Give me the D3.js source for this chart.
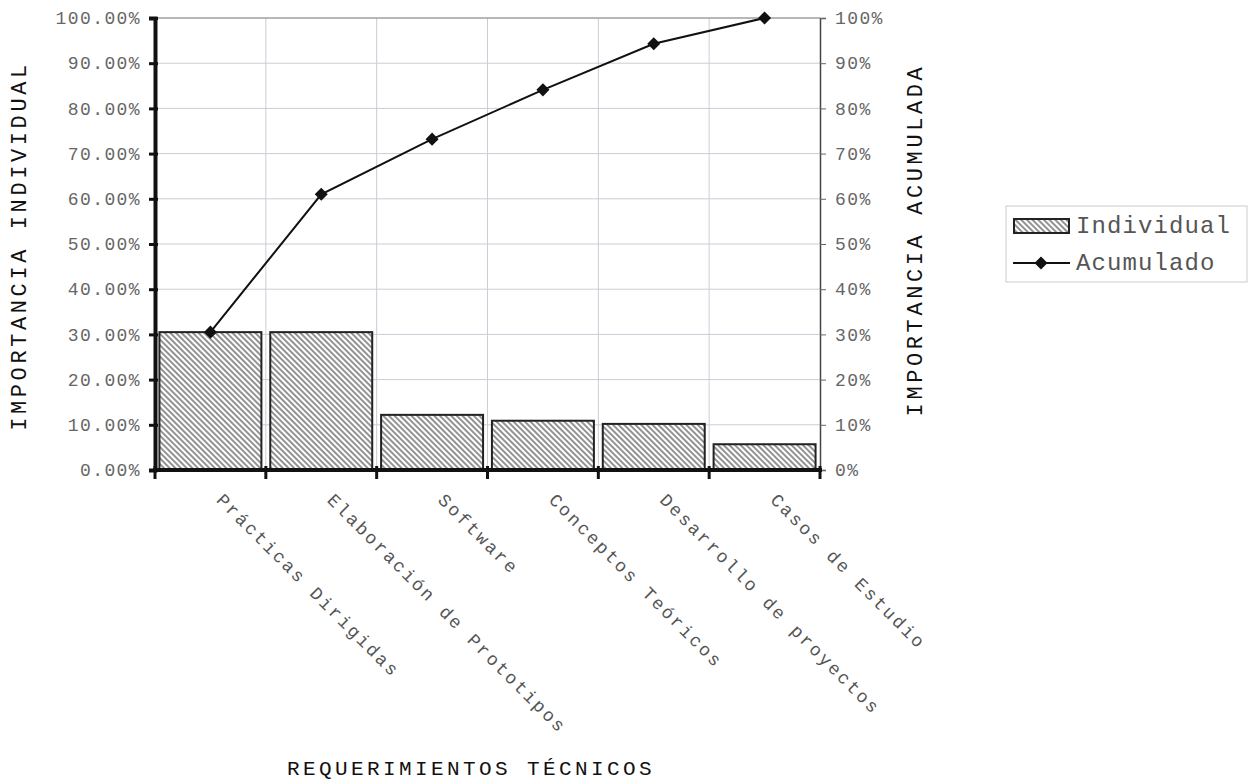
<!DOCTYPE html>
<html>
<head>
<meta charset="utf-8">
<script src="https://cdn.jsdelivr.net/npm/d3@7"></script>
<style>
  body { margin: 0; background: #fff; }
  text { font-family: "Courier New", "Liberation Mono", monospace; }
</style>
</head>
<body>
<div id="chart"></div>
<script>
var w = 1255;
var h = 783;

// data
var categories = ["Prácticas Dirigidas", "Elaboración de Prototipos", "Software",
                  "Conceptos Teóricos", "Desarrollo de proyectos", "Casos de Estudio"];
var individual = [0.305, 0.305, 0.122, 0.109, 0.102, 0.057];
var acumulado = [0.305, 0.61, 0.732, 0.841, 0.943, 1.0];
var yTicks = [0, 0.1, 0.2, 0.3, 0.4, 0.5, 0.6, 0.7, 0.8, 0.9, 1.0];

var plotLeft = 155, plotRight = 820, plotTop = 18, plotBottom = 470;

var svg = d3.select("#chart")
            .append("svg")
            .attr("width", w)
            .attr("height", h);

var defs = svg.append("defs");
var pat = defs.append("pattern")
   .attr("id", "hatch")
   .attr("patternUnits", "userSpaceOnUse")
   .attr("width", 4)
   .attr("height", 4)
   .attr("patternTransform", "rotate(-45)");
pat.append("rect").attr("width", 4).attr("height", 4).attr("fill", "#fff");
pat.append("line")
   .attr("x1", 1).attr("y1", 0).attr("x2", 1).attr("y2", 4)
   .attr("stroke", "#777").attr("stroke-width", 1.6);

var x = d3.scaleBand()
          .domain(categories)
          .range([plotLeft, plotRight])
          .paddingInner(0.08)
          .paddingOuter(0.04);

var xEdge = d3.scaleLinear()
              .domain([0, categories.length])
              .range([plotLeft, plotRight]);

var y = d3.scaleLinear().domain([0, 1]).range([plotBottom, plotTop]);

// grid
svg.append("g")
   .selectAll("line")
   .data(yTicks)
   .enter().append("line")
   .attr("x1", plotLeft).attr("x2", plotRight)
   .attr("y1", d => y(d)).attr("y2", d => y(d))
   .attr("stroke", "#c8cdd6").attr("stroke-width", 1);

svg.append("g")
   .selectAll("line")
   .data(d3.range(1, categories.length))
   .enter().append("line")
   .attr("x1", d => xEdge(d)).attr("x2", d => xEdge(d))
   .attr("y1", plotTop).attr("y2", plotBottom)
   .attr("stroke", "#c8cdd6").attr("stroke-width", 1);

// top border
svg.append("line")
   .attr("x1", plotLeft).attr("x2", plotRight).attr("y1", plotTop).attr("y2", plotTop)
   .attr("stroke", "#888").attr("stroke-width", 1.2);

// bars
svg.append("g")
   .selectAll("rect")
   .data(individual)
   .enter().append("rect")
   .attr("x", (d, i) => x(categories[i]))
   .attr("width", x.bandwidth())
   .attr("y", d => y(d))
   .attr("height", d => y(0) - y(d))
   .attr("fill", "url(#hatch)")
   .attr("stroke", "#222")
   .attr("stroke-width", 2);

// cumulative line
var cx = function(i) { return x(categories[i]) + x.bandwidth() / 2; };
var line = d3.line()
             .x((d, i) => cx(i))
             .y(d => y(d));

svg.append("path")
   .attr("d", line(acumulado))
   .attr("fill", "none")
   .attr("stroke", "#111")
   .attr("stroke-width", 2);

var diamond = d3.symbol().type(d3.symbolSquare).size(85);
svg.append("g")
   .selectAll("path")
   .data(acumulado)
   .enter().append("path")
   .attr("d", diamond)
   .attr("transform", (d, i) => "translate(" + cx(i) + "," + y(d) + ") rotate(45)")
   .attr("fill", "#111");

// left axis
var leftAxis = d3.axisLeft(y)
                 .tickValues(yTicks)
                 .tickFormat(d3.format(".2%"))
                 .tickSize(6)
                 .tickPadding(8);
var gl = svg.append("g")
            .attr("transform", "translate(" + plotLeft + ",0)")
            .call(leftAxis);
gl.select(".domain").attr("stroke", "#111").attr("stroke-width", 4);
gl.selectAll(".tick line").attr("stroke", "#111").attr("stroke-width", 3).attr("x2", -6).attr("x1", 3);
gl.selectAll(".tick text")
  .attr("fill", "#666")
  .style("font-size", "18px")
  .style("letter-spacing", "1.4px");

// right axis
var rightAxis = d3.axisRight(y)
                  .tickValues(yTicks)
                  .tickFormat(d3.format(".0%"))
                  .tickSize(6)
                  .tickPadding(9);
var gr = svg.append("g")
            .attr("transform", "translate(" + plotRight + ",0)")
            .call(rightAxis);
gr.select(".domain").attr("stroke", "#444").attr("stroke-width", 1.5);
gr.selectAll(".tick line").attr("stroke", "#666").attr("stroke-width", 1);
gr.selectAll(".tick text")
  .attr("fill", "#666")
  .style("font-size", "18px")
  .style("letter-spacing", "1.4px");

// bottom axis
var gb = svg.append("g");
gb.append("line")
  .attr("x1", plotLeft - 2).attr("x2", plotRight + 2)
  .attr("y1", plotBottom).attr("y2", plotBottom)
  .attr("stroke", "#111").attr("stroke-width", 4);
gb.selectAll("line.tk")
  .data(d3.range(0, categories.length + 1))
  .enter().append("line")
  .attr("class", "tk")
  .attr("x1", d => xEdge(d)).attr("x2", d => xEdge(d))
  .attr("y1", plotBottom - 4).attr("y2", plotBottom + 9)
  .attr("stroke", "#111").attr("stroke-width", 3);

// category labels
svg.append("g")
   .selectAll("text")
   .data(categories)
   .enter().append("text")
   .attr("transform", (d, i) => "translate(" + (cx(i) + 5) + "," + (plotBottom + 31) + ") rotate(45)")
   .attr("fill", "#555")
   .style("font-size", "18px")
   .style("letter-spacing", "2.4px")
   .text(d => d);

// axis titles
svg.append("text")
   .attr("transform", "translate(26," + ((plotTop + plotBottom) / 2 + 2) + ") rotate(-90)")
   .attr("text-anchor", "middle")
   .attr("fill", "#111")
   .style("font-size", "22px")
   .style("letter-spacing", "3.6px")
   .text("IMPORTANCIA INDIVIDUAL");

svg.append("text")
   .attr("transform", "translate(922," + ((plotTop + plotBottom) / 2 - 4) + ") rotate(-90)")
   .attr("text-anchor", "middle")
   .attr("fill", "#111")
   .style("font-size", "22px")
   .style("letter-spacing", "3.6px")
   .text("IMPORTANCIA ACUMULADA");

svg.append("text")
   .attr("x", 471)
   .attr("y", 775)
   .attr("text-anchor", "middle")
   .attr("fill", "#111")
   .style("font-size", "21px")
   .style("letter-spacing", "3.4px")
   .text("REQUERIMIENTOS TÉCNICOS");

// legend
var lg = svg.append("g").attr("transform", "translate(1006,206)");
lg.append("rect")
  .attr("width", 241).attr("height", 76)
  .attr("fill", "#fff").attr("stroke", "#ccc").attr("stroke-width", 1);
lg.append("rect")
  .attr("x", 8).attr("y", 13).attr("width", 55).attr("height", 14)
  .attr("fill", "url(#hatch)").attr("stroke", "#222").attr("stroke-width", 2);
lg.append("text")
  .attr("x", 70).attr("y", 27)
  .attr("fill", "#555")
  .style("font-size", "24px")
  .style("letter-spacing", "1.1px")
  .text("Individual");
lg.append("line")
  .attr("x1", 7).attr("x2", 64).attr("y1", 57).attr("y2", 57)
  .attr("stroke", "#111").attr("stroke-width", 2);
lg.append("path")
  .attr("d", diamond)
  .attr("transform", "translate(35,57) rotate(45)")
  .attr("fill", "#111");
lg.append("text")
  .attr("x", 70).attr("y", 64)
  .attr("fill", "#555")
  .style("font-size", "24px")
  .style("letter-spacing", "1.1px")
  .text("Acumulado");
</script>
</body>
</html>
